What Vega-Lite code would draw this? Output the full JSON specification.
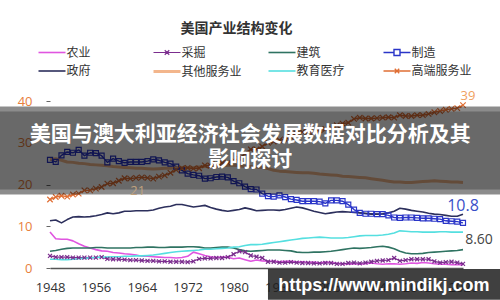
{
"$schema": "https://vega.github.io/schema/vega-lite/v6.json",
"width": 413,
"height": 167,
"autosize": {"type": "none"},
"padding": {"left": 50, "top": 101, "right": 37, "bottom": 32},
"background": "#ffffff",
"config": {"view": {"stroke": null}, "font": "Noto Sans CJK SC"},
"title": {"text": "美国产业结构变化", "fontSize": 14, "fontWeight": "bold", "color": "#333333", "font": "Noto Sans CJK SC", "anchor": "middle", "frame": "group", "dx": -20, "offset": 10},
"datasets": {
"d": [
{"t":1948,"s":"农业","v":8.6},{"t":1949,"s":"农业","v":7.0},{"t":1950,"s":"农业","v":6.9},{"t":1951,"s":"农业","v":6.9},{"t":1952,"s":"农业","v":6.5},{"t":1953,"s":"农业","v":5.8},{"t":1954,"s":"农业","v":5.2},{"t":1955,"s":"农业","v":4.8},{"t":1956,"s":"农业","v":4.4},{"t":1957,"s":"农业","v":4.1},
{"t":1958,"s":"农业","v":4.0},{"t":1959,"s":"农业","v":3.7},{"t":1960,"s":"农业","v":3.6},{"t":1961,"s":"农业","v":3.4},{"t":1962,"s":"农业","v":3.3},{"t":1963,"s":"农业","v":3.1},{"t":1964,"s":"农业","v":2.8},{"t":1965,"s":"农业","v":2.8},{"t":1966,"s":"农业","v":2.7},{"t":1967,"s":"农业","v":2.6},
{"t":1968,"s":"农业","v":2.5},{"t":1969,"s":"农业","v":2.5},{"t":1970,"s":"农业","v":2.4},{"t":1971,"s":"农业","v":2.5},{"t":1972,"s":"农业","v":2.8},{"t":1973,"s":"农业","v":3.8},{"t":1974,"s":"农业","v":3.4},{"t":1975,"s":"农业","v":3.0},{"t":1976,"s":"农业","v":2.7},{"t":1977,"s":"农业","v":2.5},
{"t":1978,"s":"农业","v":2.6},{"t":1979,"s":"农业","v":2.6},{"t":1980,"s":"农业","v":2.2},{"t":1981,"s":"农业","v":2.4},{"t":1982,"s":"农业","v":2.0},{"t":1983,"s":"农业","v":1.6},{"t":1984,"s":"农业","v":1.9},{"t":1985,"s":"农业","v":1.7},{"t":1986,"s":"农业","v":1.6},{"t":1987,"s":"农业","v":1.6},
{"t":1988,"s":"农业","v":1.5},{"t":1989,"s":"农业","v":1.6},{"t":1990,"s":"农业","v":1.6},{"t":1991,"s":"农业","v":1.4},{"t":1992,"s":"农业","v":1.5},{"t":1993,"s":"农业","v":1.3},{"t":1994,"s":"农业","v":1.4},{"t":1995,"s":"农业","v":1.2},{"t":1996,"s":"农业","v":1.4},{"t":1997,"s":"农业","v":1.3},
{"t":1998,"s":"农业","v":1.1},{"t":1999,"s":"农业","v":1.0},{"t":2000,"s":"农业","v":1.0},{"t":2001,"s":"农业","v":1.0},{"t":2002,"s":"农业","v":0.9},{"t":2003,"s":"农业","v":1.0},{"t":2004,"s":"农业","v":1.2},{"t":2005,"s":"农业","v":1.0},{"t":2006,"s":"农业","v":0.9},{"t":2007,"s":"农业","v":1.0},
{"t":2008,"s":"农业","v":1.0},{"t":2009,"s":"农业","v":0.9},{"t":2010,"s":"农业","v":1.0},{"t":2011,"s":"农业","v":1.2},{"t":2012,"s":"农业","v":1.1},{"t":2013,"s":"农业","v":1.3},{"t":2014,"s":"农业","v":1.2},{"t":2015,"s":"农业","v":1.0},{"t":2016,"s":"农业","v":0.9},{"t":2017,"s":"农业","v":0.9},
{"t":2018,"s":"农业","v":0.8},{"t":2019,"s":"农业","v":0.8},{"t":2020,"s":"农业","v":0.8},
{"t":1948,"s":"采掘","v":2.9},{"t":1949,"s":"采掘","v":2.6},{"t":1950,"s":"采掘","v":2.6},{"t":1951,"s":"采掘","v":2.6},{"t":1952,"s":"采掘","v":2.5},{"t":1953,"s":"采掘","v":2.5},{"t":1954,"s":"采掘","v":2.5},{"t":1955,"s":"采掘","v":2.5},{"t":1956,"s":"采掘","v":2.5},{"t":1957,"s":"采掘","v":2.6},
{"t":1958,"s":"采掘","v":2.2},{"t":1959,"s":"采掘","v":2.1},{"t":1960,"s":"采掘","v":2.1},{"t":1961,"s":"采掘","v":2.0},{"t":1962,"s":"采掘","v":1.9},{"t":1963,"s":"采掘","v":1.9},{"t":1964,"s":"采掘","v":1.8},{"t":1965,"s":"采掘","v":1.7},{"t":1966,"s":"采掘","v":1.7},{"t":1967,"s":"采掘","v":1.6},
{"t":1968,"s":"采掘","v":1.6},{"t":1969,"s":"采掘","v":1.5},{"t":1970,"s":"采掘","v":1.5},{"t":1971,"s":"采掘","v":1.5},{"t":1972,"s":"采掘","v":1.4},{"t":1973,"s":"采掘","v":1.6},{"t":1974,"s":"采掘","v":2.2},{"t":1975,"s":"采掘","v":2.3},{"t":1976,"s":"采掘","v":2.3},{"t":1977,"s":"采掘","v":2.4},
{"t":1978,"s":"采掘","v":2.4},{"t":1979,"s":"采掘","v":2.6},{"t":1980,"s":"采掘","v":3.3},{"t":1981,"s":"采掘","v":4.0},{"t":1982,"s":"采掘","v":3.8},{"t":1983,"s":"采掘","v":3.0},{"t":1984,"s":"采掘","v":2.7},{"t":1985,"s":"采掘","v":2.4},{"t":1986,"s":"采掘","v":1.5},{"t":1987,"s":"采掘","v":1.5},
{"t":1988,"s":"采掘","v":1.3},{"t":1989,"s":"采掘","v":1.3},{"t":1990,"s":"采掘","v":1.4},{"t":1991,"s":"采掘","v":1.3},{"t":1992,"s":"采掘","v":1.2},{"t":1993,"s":"采掘","v":1.2},{"t":1994,"s":"采掘","v":1.1},{"t":1995,"s":"采掘","v":1.1},{"t":1996,"s":"采掘","v":1.2},{"t":1997,"s":"采掘","v":1.2},
{"t":1998,"s":"采掘","v":1.0},{"t":1999,"s":"采掘","v":1.0},{"t":2000,"s":"采掘","v":1.2},{"t":2001,"s":"采掘","v":1.3},{"t":2002,"s":"采掘","v":1.1},{"t":2003,"s":"采掘","v":1.3},{"t":2004,"s":"采掘","v":1.5},{"t":2005,"s":"采掘","v":1.7},{"t":2006,"s":"采掘","v":1.8},{"t":2007,"s":"采掘","v":1.9},
{"t":2008,"s":"采掘","v":2.4},{"t":2009,"s":"采掘","v":1.7},{"t":2010,"s":"采掘","v":1.9},{"t":2011,"s":"采掘","v":2.1},{"t":2012,"s":"采掘","v":2.1},{"t":2013,"s":"采掘","v":2.1},{"t":2014,"s":"采掘","v":2.1},{"t":2015,"s":"采掘","v":1.6},{"t":2016,"s":"采掘","v":1.3},{"t":2017,"s":"采掘","v":1.4},
{"t":2018,"s":"采掘","v":1.5},{"t":2019,"s":"采掘","v":1.3},{"t":2020,"s":"采掘","v":1.0},
{"t":1948,"s":"建筑","v":4.0},{"t":1949,"s":"建筑","v":4.2},{"t":1950,"s":"建筑","v":4.5},{"t":1951,"s":"建筑","v":4.7},{"t":1952,"s":"建筑","v":4.8},{"t":1953,"s":"建筑","v":4.8},{"t":1954,"s":"建筑","v":4.8},{"t":1955,"s":"建筑","v":4.8},{"t":1956,"s":"建筑","v":4.9},{"t":1957,"s":"建筑","v":4.9},
{"t":1958,"s":"建筑","v":4.8},{"t":1959,"s":"建筑","v":4.8},{"t":1960,"s":"建筑","v":4.8},{"t":1961,"s":"建筑","v":4.8},{"t":1962,"s":"建筑","v":4.8},{"t":1963,"s":"建筑","v":4.9},{"t":1964,"s":"建筑","v":4.9},{"t":1965,"s":"建筑","v":5.0},{"t":1966,"s":"建筑","v":5.0},{"t":1967,"s":"建筑","v":4.9},
{"t":1968,"s":"建筑","v":4.9},{"t":1969,"s":"建筑","v":5.0},{"t":1970,"s":"建筑","v":5.0},{"t":1971,"s":"建筑","v":5.0},{"t":1972,"s":"建筑","v":5.1},{"t":1973,"s":"建筑","v":5.1},{"t":1974,"s":"建筑","v":5.0},{"t":1975,"s":"建筑","v":4.8},{"t":1976,"s":"建筑","v":4.8},{"t":1977,"s":"建筑","v":4.9},
{"t":1978,"s":"建筑","v":5.0},{"t":1979,"s":"建筑","v":5.0},{"t":1980,"s":"建筑","v":4.8},{"t":1981,"s":"建筑","v":4.4},{"t":1982,"s":"建筑","v":4.1},{"t":1983,"s":"建筑","v":4.0},{"t":1984,"s":"建筑","v":4.1},{"t":1985,"s":"建筑","v":4.2},{"t":1986,"s":"建筑","v":4.3},{"t":1987,"s":"建筑","v":4.3},
{"t":1988,"s":"建筑","v":4.3},{"t":1989,"s":"建筑","v":4.2},{"t":1990,"s":"建筑","v":4.1},{"t":1991,"s":"建筑","v":3.8},{"t":1992,"s":"建筑","v":3.7},{"t":1993,"s":"建筑","v":3.7},{"t":1994,"s":"建筑","v":3.8},{"t":1995,"s":"建筑","v":3.8},{"t":1996,"s":"建筑","v":3.9},{"t":1997,"s":"建筑","v":4.0},
{"t":1998,"s":"建筑","v":4.2},{"t":1999,"s":"建筑","v":4.4},{"t":2000,"s":"建筑","v":4.6},{"t":2001,"s":"建筑","v":4.8},{"t":2002,"s":"建筑","v":4.7},{"t":2003,"s":"建筑","v":4.8},{"t":2004,"s":"建筑","v":4.9},{"t":2005,"s":"建筑","v":5.1},{"t":2006,"s":"建筑","v":5.2},{"t":2007,"s":"建筑","v":5.0},
{"t":2008,"s":"建筑","v":4.6},{"t":2009,"s":"建筑","v":4.0},{"t":2010,"s":"建筑","v":3.6},{"t":2011,"s":"建筑","v":3.4},{"t":2012,"s":"建筑","v":3.4},{"t":2013,"s":"建筑","v":3.5},{"t":2014,"s":"建筑","v":3.7},{"t":2015,"s":"建筑","v":3.8},{"t":2016,"s":"建筑","v":3.9},{"t":2017,"s":"建筑","v":4.0},
{"t":2018,"s":"建筑","v":4.1},{"t":2019,"s":"建筑","v":4.2},{"t":2020,"s":"建筑","v":4.4},
{"t":1948,"s":"制造","v":25.9},{"t":1949,"s":"制造","v":25.4},{"t":1950,"s":"制造","v":27.0},{"t":1951,"s":"制造","v":27.8},{"t":1952,"s":"制造","v":27.6},{"t":1953,"s":"制造","v":28.3},{"t":1954,"s":"制造","v":26.9},{"t":1955,"s":"制造","v":27.6},{"t":1956,"s":"制造","v":27.5},{"t":1957,"s":"制造","v":26.9},
{"t":1958,"s":"制造","v":25.3},{"t":1959,"s":"制造","v":26.2},{"t":1960,"s":"制造","v":25.6},{"t":1961,"s":"制造","v":25.2},{"t":1962,"s":"制造","v":25.4},{"t":1963,"s":"制造","v":25.4},{"t":1964,"s":"制造","v":25.4},{"t":1965,"s":"制造","v":25.6},{"t":1966,"s":"制造","v":26.0},{"t":1967,"s":"制造","v":25.8},
{"t":1968,"s":"制造","v":25.3},{"t":1969,"s":"制造","v":25.0},{"t":1970,"s":"制造","v":24.3},{"t":1971,"s":"制造","v":23.4},{"t":1972,"s":"制造","v":22.6},{"t":1973,"s":"制造","v":22.3},{"t":1974,"s":"制造","v":22.1},{"t":1975,"s":"制造","v":21.4},{"t":1976,"s":"制造","v":21.5},{"t":1977,"s":"制造","v":21.8},
{"t":1978,"s":"制造","v":21.9},{"t":1979,"s":"制造","v":21.7},{"t":1980,"s":"制造","v":20.8},{"t":1981,"s":"制造","v":20.3},{"t":1982,"s":"制造","v":19.5},{"t":1983,"s":"制造","v":18.9},{"t":1984,"s":"制造","v":18.8},{"t":1985,"s":"制造","v":17.8},{"t":1986,"s":"制造","v":17.2},{"t":1987,"s":"制造","v":17.1},
{"t":1988,"s":"制造","v":17.4},{"t":1989,"s":"制造","v":17.0},{"t":1990,"s":"制造","v":16.5},{"t":1991,"s":"制造","v":16.3},{"t":1992,"s":"制造","v":16.0},{"t":1993,"s":"制造","v":16.0},{"t":1994,"s":"制造","v":16.0},{"t":1995,"s":"制造","v":15.9},{"t":1996,"s":"制造","v":15.5},{"t":1997,"s":"制造","v":16.2},
{"t":1998,"s":"制造","v":16.2},{"t":1999,"s":"制造","v":16.0},{"t":2000,"s":"制造","v":15.2},{"t":2001,"s":"制造","v":14.0},{"t":2002,"s":"制造","v":13.2},{"t":2003,"s":"制造","v":13.0},{"t":2004,"s":"制造","v":13.0},{"t":2005,"s":"制造","v":12.9},{"t":2006,"s":"制造","v":12.9},{"t":2007,"s":"制造","v":12.6},
{"t":2008,"s":"制造","v":12.1},{"t":2009,"s":"制造","v":12.0},{"t":2010,"s":"制造","v":12.1},{"t":2011,"s":"制造","v":12.1},{"t":2012,"s":"制造","v":12.0},{"t":2013,"s":"制造","v":11.9},{"t":2014,"s":"制造","v":11.9},{"t":2015,"s":"制造","v":11.8},{"t":2016,"s":"制造","v":11.7},{"t":2017,"s":"制造","v":11.3},
{"t":2018,"s":"制造","v":11.2},{"t":2019,"s":"制造","v":11.1},{"t":2020,"s":"制造","v":10.8},
{"t":1948,"s":"政府","v":11.3},{"t":1949,"s":"政府","v":11.5},{"t":1950,"s":"政府","v":10.8},{"t":1951,"s":"政府","v":11.6},{"t":1952,"s":"政府","v":12.2},{"t":1953,"s":"政府","v":12.3},{"t":1954,"s":"政府","v":12.2},{"t":1955,"s":"政府","v":12.3},{"t":1956,"s":"政府","v":12.5},{"t":1957,"s":"政府","v":12.8},
{"t":1958,"s":"政府","v":13.2},{"t":1959,"s":"政府","v":13.0},{"t":1960,"s":"政府","v":13.2},{"t":1961,"s":"政府","v":13.6},{"t":1962,"s":"政府","v":13.6},{"t":1963,"s":"政府","v":13.7},{"t":1964,"s":"政府","v":13.7},{"t":1965,"s":"政府","v":13.7},{"t":1966,"s":"政府","v":13.9},{"t":1967,"s":"政府","v":14.3},
{"t":1968,"s":"政府","v":14.6},{"t":1969,"s":"政府","v":14.8},{"t":1970,"s":"政府","v":15.2},{"t":1971,"s":"政府","v":15.2},{"t":1972,"s":"政府","v":14.9},{"t":1973,"s":"政府","v":14.6},{"t":1974,"s":"政府","v":14.8},{"t":1975,"s":"政府","v":15.0},{"t":1976,"s":"政府","v":14.5},{"t":1977,"s":"政府","v":14.1},
{"t":1978,"s":"政府","v":13.8},{"t":1979,"s":"政府","v":13.6},{"t":1980,"s":"政府","v":13.8},{"t":1981,"s":"政府","v":14.0},{"t":1982,"s":"政府","v":14.4},{"t":1983,"s":"政府","v":14.1},{"t":1984,"s":"政府","v":13.7},{"t":1985,"s":"政府","v":13.8},{"t":1986,"s":"政府","v":13.9},{"t":1987,"s":"政府","v":13.9},
{"t":1988,"s":"政府","v":13.8},{"t":1989,"s":"政府","v":14.0},{"t":1990,"s":"政府","v":14.3},{"t":1991,"s":"政府","v":14.6},{"t":1992,"s":"政府","v":14.4},{"t":1993,"s":"政府","v":14.0},{"t":1994,"s":"政府","v":13.6},{"t":1995,"s":"政府","v":13.3},{"t":1996,"s":"政府","v":13.0},{"t":1997,"s":"政府","v":13.2},
{"t":1998,"s":"政府","v":13.4},{"t":1999,"s":"政府","v":13.5},{"t":2000,"s":"政府","v":13.4},{"t":2001,"s":"政府","v":13.3},{"t":2002,"s":"政府","v":13.2},{"t":2003,"s":"政府","v":13.1},{"t":2004,"s":"政府","v":12.9},{"t":2005,"s":"政府","v":12.9},{"t":2006,"s":"政府","v":13.0},{"t":2007,"s":"政府","v":13.2},
{"t":2008,"s":"政府","v":13.6},{"t":2009,"s":"政府","v":14.3},{"t":2010,"s":"政府","v":14.1},{"t":2011,"s":"政府","v":13.8},{"t":2012,"s":"政府","v":13.6},{"t":2013,"s":"政府","v":13.4},{"t":2014,"s":"政府","v":13.1},{"t":2015,"s":"政府","v":12.9},{"t":2016,"s":"政府","v":12.8},{"t":2017,"s":"政府","v":12.6},
{"t":2018,"s":"政府","v":12.4},{"t":2019,"s":"政府","v":12.4},{"t":2020,"s":"政府","v":12.9},
{"t":1948,"s":"其他服务业","v":26.0},{"t":1949,"s":"其他服务业","v":26.2},{"t":1950,"s":"其他服务业","v":25.8},{"t":1951,"s":"其他服务业","v":25.4},{"t":1952,"s":"其他服务业","v":25.3},{"t":1953,"s":"其他服务业","v":25.1},{"t":1954,"s":"其他服务业","v":25.0},{"t":1955,"s":"其他服务业","v":24.8},{"t":1956,"s":"其他服务业","v":24.7},{"t":1957,"s":"其他服务业","v":24.6},
{"t":1958,"s":"其他服务业","v":24.5},{"t":1959,"s":"其他服务业","v":24.3},{"t":1960,"s":"其他服务业","v":24.2},{"t":1961,"s":"其他服务业","v":24.1},{"t":1962,"s":"其他服务业","v":24.0},{"t":1963,"s":"其他服务业","v":23.9},{"t":1964,"s":"其他服务业","v":23.9},{"t":1965,"s":"其他服务业","v":23.8},{"t":1966,"s":"其他服务业","v":23.7},{"t":1967,"s":"其他服务业","v":23.8},
{"t":1968,"s":"其他服务业","v":23.9},{"t":1969,"s":"其他服务业","v":23.9},{"t":1970,"s":"其他服务业","v":24.0},{"t":1971,"s":"其他服务业","v":24.1},{"t":1972,"s":"其他服务业","v":24.0},{"t":1973,"s":"其他服务业","v":24.0},{"t":1974,"s":"其他服务业","v":24.2},{"t":1975,"s":"其他服务业","v":24.3},{"t":1976,"s":"其他服务业","v":24.4},{"t":1977,"s":"其他服务业","v":24.4},
{"t":1978,"s":"其他服务业","v":24.5},{"t":1979,"s":"其他服务业","v":24.6},{"t":1980,"s":"其他服务业","v":24.6},{"t":1981,"s":"其他服务业","v":24.5},{"t":1982,"s":"其他服务业","v":24.3},{"t":1983,"s":"其他服务业","v":24.3},{"t":1984,"s":"其他服务业","v":24.2},{"t":1985,"s":"其他服务业","v":24.1},{"t":1986,"s":"其他服务业","v":23.8},{"t":1987,"s":"其他服务业","v":23.4},
{"t":1988,"s":"其他服务业","v":23.2},{"t":1989,"s":"其他服务业","v":23.1},{"t":1990,"s":"其他服务业","v":23.0},{"t":1991,"s":"其他服务业","v":22.9},{"t":1992,"s":"其他服务业","v":22.8},{"t":1993,"s":"其他服务业","v":22.8},{"t":1994,"s":"其他服务业","v":22.7},{"t":1995,"s":"其他服务业","v":22.5},{"t":1996,"s":"其他服务业","v":22.4},{"t":1997,"s":"其他服务业","v":22.3},
{"t":1998,"s":"其他服务业","v":22.2},{"t":1999,"s":"其他服务业","v":22.0},{"t":2000,"s":"其他服务业","v":21.9},{"t":2001,"s":"其他服务业","v":21.8},{"t":2002,"s":"其他服务业","v":21.7},{"t":2003,"s":"其他服务业","v":21.6},{"t":2004,"s":"其他服务业","v":21.4},{"t":2005,"s":"其他服务业","v":21.2},{"t":2006,"s":"其他服务业","v":21.0},{"t":2007,"s":"其他服务业","v":20.8},
{"t":2008,"s":"其他服务业","v":20.6},{"t":2009,"s":"其他服务业","v":20.6},{"t":2010,"s":"其他服务业","v":20.5},{"t":2011,"s":"其他服务业","v":20.5},{"t":2012,"s":"其他服务业","v":20.6},{"t":2013,"s":"其他服务业","v":20.7},{"t":2014,"s":"其他服务业","v":20.8},{"t":2015,"s":"其他服务业","v":20.9},{"t":2016,"s":"其他服务业","v":20.8},{"t":2017,"s":"其他服务业","v":20.7},
{"t":2018,"s":"其他服务业","v":20.6},{"t":2019,"s":"其他服务业","v":20.6},{"t":2020,"s":"其他服务业","v":20.5},
{"t":1948,"s":"教育医疗","v":2.1},{"t":1949,"s":"教育医疗","v":2.1},{"t":1950,"s":"教育医疗","v":2.0},{"t":1951,"s":"教育医疗","v":2.0},{"t":1952,"s":"教育医疗","v":2.1},{"t":1953,"s":"教育医疗","v":2.2},{"t":1954,"s":"教育医疗","v":2.3},{"t":1955,"s":"教育医疗","v":2.4},{"t":1956,"s":"教育医疗","v":2.5},{"t":1957,"s":"教育医疗","v":2.6},
{"t":1958,"s":"教育医疗","v":2.6},{"t":1959,"s":"教育医疗","v":2.7},{"t":1960,"s":"教育医疗","v":2.7},{"t":1961,"s":"教育医疗","v":2.8},{"t":1962,"s":"教育医疗","v":2.8},{"t":1963,"s":"教育医疗","v":2.9},{"t":1964,"s":"教育医疗","v":2.9},{"t":1965,"s":"教育医疗","v":3.0},{"t":1966,"s":"教育医疗","v":3.1},{"t":1967,"s":"教育医疗","v":3.3},
{"t":1968,"s":"教育医疗","v":3.5},{"t":1969,"s":"教育医疗","v":3.7},{"t":1970,"s":"教育医疗","v":3.9},{"t":1971,"s":"教育医疗","v":4.0},{"t":1972,"s":"教育医疗","v":4.1},{"t":1973,"s":"教育医疗","v":4.2},{"t":1974,"s":"教育医疗","v":4.3},{"t":1975,"s":"教育医疗","v":4.5},{"t":1976,"s":"教育医疗","v":4.5},{"t":1977,"s":"教育医疗","v":4.6},
{"t":1978,"s":"教育医疗","v":4.7},{"t":1979,"s":"教育医疗","v":4.8},{"t":1980,"s":"教育医疗","v":5.0},{"t":1981,"s":"教育医疗","v":5.1},{"t":1982,"s":"教育医疗","v":5.4},{"t":1983,"s":"教育医疗","v":5.6},{"t":1984,"s":"教育医疗","v":5.6},{"t":1985,"s":"教育医疗","v":5.7},{"t":1986,"s":"教育医疗","v":5.9},{"t":1987,"s":"教育医疗","v":6.1},
{"t":1988,"s":"教育医疗","v":6.3},{"t":1989,"s":"教育医疗","v":6.5},{"t":1990,"s":"教育医疗","v":6.7},{"t":1991,"s":"教育医疗","v":6.9},{"t":1992,"s":"教育医疗","v":7.1},{"t":1993,"s":"教育医疗","v":7.2},{"t":1994,"s":"教育医疗","v":7.3},{"t":1995,"s":"教育医疗","v":7.4},{"t":1996,"s":"教育医疗","v":7.3},{"t":1997,"s":"教育医疗","v":7.2},
{"t":1998,"s":"教育医疗","v":7.2},{"t":1999,"s":"教育医疗","v":7.2},{"t":2000,"s":"教育医疗","v":7.3},{"t":2001,"s":"教育医疗","v":7.5},{"t":2002,"s":"教育医疗","v":7.7},{"t":2003,"s":"教育医疗","v":7.8},{"t":2004,"s":"教育医疗","v":7.8},{"t":2005,"s":"教育医疗","v":7.8},{"t":2006,"s":"教育医疗","v":7.9},{"t":2007,"s":"教育医疗","v":8.1},
{"t":2008,"s":"教育医疗","v":8.4},{"t":2009,"s":"教育医疗","v":8.9},{"t":2010,"s":"教育医疗","v":8.8},{"t":2011,"s":"教育医疗","v":8.7},{"t":2012,"s":"教育医疗","v":8.7},{"t":2013,"s":"教育医疗","v":8.6},{"t":2014,"s":"教育医疗","v":8.6},{"t":2015,"s":"教育医疗","v":8.6},{"t":2016,"s":"教育医疗","v":8.7},{"t":2017,"s":"教育医疗","v":8.7},
{"t":2018,"s":"教育医疗","v":8.6},{"t":2019,"s":"教育医疗","v":8.6},{"t":2020,"s":"教育医疗","v":8.6},
{"t":1948,"s":"高端服务业","v":16.4},{"t":1949,"s":"高端服务业","v":17.0},{"t":1950,"s":"高端服务业","v":17.3},{"t":1951,"s":"高端服务业","v":17.1},{"t":1952,"s":"高端服务业","v":17.6},{"t":1953,"s":"高端服务业","v":17.8},{"t":1954,"s":"高端服务业","v":18.6},{"t":1955,"s":"高端服务业","v":18.6},{"t":1956,"s":"高端服务业","v":19.0},{"t":1957,"s":"高端服务业","v":19.4},
{"t":1958,"s":"高端服务业","v":20.2},{"t":1959,"s":"高端服务业","v":20.3},{"t":1960,"s":"高端服务业","v":20.9},{"t":1961,"s":"高端服务业","v":21.5},{"t":1962,"s":"高端服务业","v":21.4},{"t":1963,"s":"高端服务业","v":21.6},{"t":1964,"s":"高端服务业","v":21.7},{"t":1965,"s":"高端服务业","v":21.6},{"t":1966,"s":"高端服务业","v":21.4},{"t":1967,"s":"高端服务业","v":21.9},
{"t":1968,"s":"高端服务业","v":22.2},{"t":1969,"s":"高端服务业","v":22.8},{"t":1970,"s":"高端服务业","v":23.5},{"t":1971,"s":"高端服务业","v":23.9},{"t":1972,"s":"高端服务业","v":24.0},{"t":1973,"s":"高端服务业","v":23.8},{"t":1974,"s":"高端服务业","v":23.9},{"t":1975,"s":"高端服务业","v":24.6},{"t":1976,"s":"高端服务业","v":24.5},{"t":1977,"s":"高端服务业","v":24.9},
{"t":1978,"s":"高端服务业","v":25.1},{"t":1979,"s":"高端服务业","v":25.2},{"t":1980,"s":"高端服务业","v":25.8},{"t":1981,"s":"高端服务业","v":26.2},{"t":1982,"s":"高端服务业","v":27.4},{"t":1983,"s":"高端服务业","v":28.4},{"t":1984,"s":"高端服务业","v":28.4},{"t":1985,"s":"高端服务业","v":29.1},{"t":1986,"s":"高端服务业","v":30.0},{"t":1987,"s":"高端服务业","v":30.3},
{"t":1988,"s":"高端服务业","v":30.6},{"t":1989,"s":"高端服务业","v":30.8},{"t":1990,"s":"高端服务业","v":31.4},{"t":1991,"s":"高端服务业","v":32.2},{"t":1992,"s":"高端服务业","v":32.6},{"t":1993,"s":"高端服务业","v":32.7},{"t":1994,"s":"高端服务业","v":32.6},{"t":1995,"s":"高端服务业","v":33.0},{"t":1996,"s":"高端服务业","v":33.3},{"t":1997,"s":"高端服务业","v":33.5},
{"t":1998,"s":"高端服务业","v":34.2},{"t":1999,"s":"高端服务业","v":34.6},{"t":2000,"s":"高端服务业","v":34.8},{"t":2001,"s":"高端服务业","v":35.7},{"t":2002,"s":"高端服务业","v":36.0},{"t":2003,"s":"高端服务业","v":35.8},{"t":2004,"s":"高端服务业","v":35.8},{"t":2005,"s":"高端服务业","v":35.9},{"t":2006,"s":"高端服务业","v":36.0},{"t":2007,"s":"高端服务业","v":36.1},
{"t":2008,"s":"高端服务业","v":36.0},{"t":2009,"s":"高端服务业","v":36.6},{"t":2010,"s":"高端服务业","v":36.4},{"t":2011,"s":"高端服务业","v":36.4},{"t":2012,"s":"高端服务业","v":36.6},{"t":2013,"s":"高端服务业","v":36.6},{"t":2014,"s":"高端服务业","v":36.9},{"t":2015,"s":"高端服务业","v":37.3},{"t":2016,"s":"高端服务业","v":37.6},{"t":2017,"s":"高端服务业","v":37.9},
{"t":2018,"s":"高端服务业","v":38.1},{"t":2019,"s":"高端服务业","v":38.3},{"t":2020,"s":"高端服务业","v":39.0}
]
},
"layer": [
{
"data": {"name": "d"},
"mark": {"type": "line", "strokeJoin": "round"},
"encoding": {
"x": {"field": "t", "type": "quantitative", "scale": {"domain": [1948, 2020], "nice": false, "zero": false}, "axis": {"values": [1948, 1956, 1964, 1972, 1980, 1988, 1996, 2004, 2012, 2020], "format": "d", "title": null, "grid": false, "ticks": false, "domainColor": "#555555", "domainWidth": 1.5, "labelFont": "Open Sans", "labelFontSize": 13, "labelColor": "#333333", "labelPadding": 13, "labelFlush": false, "labelOverlap": false}},
"y": {"field": "v", "type": "quantitative", "scale": {"domain": [0, 40], "nice": false, "zero": true}, "axis": {"values": [0, 5, 10, 15, 20, 25, 30, 35, 40], "title": null, "grid": false, "domain": false, "tickColor": "#666666", "tickSize": 4, "labelPadding": 14, "labelFont": "Open Sans", "labelFontSize": 13, "labelColor": "#e8803c", "labelOverlap": false, "labelFlush": false}},
"color": {"field": "s", "type": "nominal",
"scale": {"domain": ["农业", "采掘", "建筑", "制造", "政府", "其他服务业", "教育医疗", "高端服务业"], "range": ["#e055e0", "#7b2d8e", "#2f7362", "#2a35c8", "#2c2f5c", "#f3b68c", "#55dfe0", "#e06f35"]},
"legend": {"orient": "none", "legendX": -12, "legendY": -55, "direction": "horizontal", "columns": 4, "title": null, "symbolType": "stroke", "symbolSize": 100, "symbolStrokeWidth": 2, "symbolOffset": 7.5, "labelFont": "Noto Sans CJK SC", "labelFontSize": 12, "labelColor": "#333333", "columnPadding": 20, "rowPadding": 6, "gridAlign": "all", "labelOffset": 8, "labelLimit": 200,
"encode": {"symbols": {"update": {"shape": {"signal": "datum.value === '制造' ? 'M-2.7,0H-0.6M0.6,0H2.7M-0.6,-0.6H0.6V0.6H-0.6Z' : ((datum.value === '采掘' || datum.value === '高端服务业') ? 'M-2.7,0H2.7M-0.45,-0.45L0.45,0.45M-0.45,0.45L0.45,-0.45' : 'M-2.7,0H2.7')"}, "fill": {"value": "transparent"}, "strokeWidth": {"signal": "datum.value === '其他服务业' ? 4 : 2"}}}}}},
"strokeWidth": {"field": "s", "type": "nominal", "scale": {"type": "ordinal", "domain": ["农业", "采掘", "建筑", "制造", "政府", "其他服务业", "教育医疗", "高端服务业"], "range": [1.6, 1.2, 1.6, 1.4, 1.6, 3, 1.6, 1.4]}, "legend": null}
}
},
{
"data": {"name": "d"},
"transform": [{"filter": {"field": "s", "oneOf": ["采掘", "制造", "高端服务业"]}}],
"mark": {"type": "point", "filled": false, "strokeWidth": 1.2, "opacity": 1},
"encoding": {
"x": {"field": "t", "type": "quantitative"},
"y": {"field": "v", "type": "quantitative"},
"color": {"field": "s", "type": "nominal", "legend": null},
"shape": {"field": "s", "type": "nominal", "scale": {"domain": ["采掘", "制造", "高端服务业"], "range": ["M-1,-1L1,1M-1,1L1,-1", "square", "M-1,-1L1,1M-1,1L1,-1"]}, "legend": null},
"size": {"field": "s", "type": "nominal", "scale": {"type": "ordinal", "domain": ["采掘", "制造", "高端服务业"], "range": [16, 25, 30]}, "legend": null}
}
},
{
"data": {"values": [{"k": "label"}]},
"mark": {"type": "rect", "fill": "#000000", "opacity": 0.45},
"encoding": {"x": {"datum": 1939.2, "type": "quantitative"}, "x2": {"datum": 2026.5}, "y": {"datum": 38.7, "type": "quantitative"}, "y2": {"datum": 17.6}}
},
{
"data": {"values": [{"k": "label"}]},
"mark": {"type": "rect", "fill": "#000000", "opacity": 0.25},
"encoding": {"x": {"datum": 1939.2, "type": "quantitative"}, "x2": {"datum": 2026.5}, "y": {"datum": 37.5, "type": "quantitative"}, "y2": {"datum": 18.8}}
},
{
"data": {"values": [{"k": "label"}]},
"mark": {"type": "text", "text": "美国与澳大利亚经济社会发展数据对比分析及其", "font": "Noto Sans CJK SC", "fontSize": 21, "fontWeight": "bold", "color": "#ffffff", "align": "center", "baseline": "middle"},
"encoding": {"x": {"datum": 1982.9, "type": "quantitative"}, "y": {"datum": 31.9, "type": "quantitative"}}
},
{
"data": {"values": [{"k": "label"}]},
"mark": {"type": "text", "text": "影响探讨", "font": "Noto Sans CJK SC", "fontSize": 21, "fontWeight": "bold", "color": "#ffffff", "align": "center", "baseline": "middle"},
"encoding": {"x": {"datum": 1982.9, "type": "quantitative"}, "y": {"datum": 25.9, "type": "quantitative"}}
},
{
"data": {"values": [{"t": 2020, "v": 39, "lbl": "39"}]},
"mark": {"type": "text", "font": "Open Sans", "fontSize": 13, "color": "#f0a060", "align": "center", "baseline": "middle", "dx": 5, "dy": -9},
"encoding": {"x": {"field": "t", "type": "quantitative"}, "y": {"field": "v", "type": "quantitative"}, "text": {"field": "lbl"}}
},
{
"data": {"values": [{"t": 1964, "v": 21.7, "lbl": "21"}]},
"mark": {"type": "text", "font": "Open Sans", "fontSize": 13, "color": "#c0a27e", "align": "center", "baseline": "middle", "dx": -4, "dy": 14},
"encoding": {"x": {"field": "t", "type": "quantitative"}, "y": {"field": "v", "type": "quantitative"}, "text": {"field": "lbl"}}
},
{
"data": {"values": [{"t": 2020, "v": 10.8, "lbl": "10.8"}]},
"mark": {"type": "text", "font": "Open Sans", "fontSize": 16, "color": "#3a4fc8", "align": "center", "baseline": "middle", "dx": 0, "dy": -17},
"encoding": {"x": {"field": "t", "type": "quantitative"}, "y": {"field": "v", "type": "quantitative"}, "text": {"field": "lbl"}}
},
{
"data": {"values": [{"t": 2020, "v": 8.6, "lbl": "8.60"}]},
"mark": {"type": "text", "font": "Open Sans", "fontSize": 14, "color": "#444444", "align": "center", "baseline": "middle", "dx": 16, "dy": 8},
"encoding": {"x": {"field": "t", "type": "quantitative"}, "y": {"field": "v", "type": "quantitative"}, "text": {"field": "lbl"}}
},
{
"data": {"values": [{"k": "label"}]},
"mark": {"type": "rect", "fill": "#1e1e1e", "opacity": 0.85},
"encoding": {"x": {"datum": 1986.0, "type": "quantitative"}, "x2": {"datum": 2026.5}, "y": {"datum": -0.25, "type": "quantitative"}, "y2": {"datum": -7.6}}
},
{
"data": {"values": [{"k": "label"}]},
"mark": {"type": "text", "text": "https://www.mindikj.com", "font": "Liberation Sans", "fontSize": 18, "fontWeight": "bold", "color": "#ffffff", "align": "center", "baseline": "middle"},
"encoding": {"x": {"datum": 2006.2, "type": "quantitative"}, "y": {"datum": -4.3, "type": "quantitative"}}
}
]
}
